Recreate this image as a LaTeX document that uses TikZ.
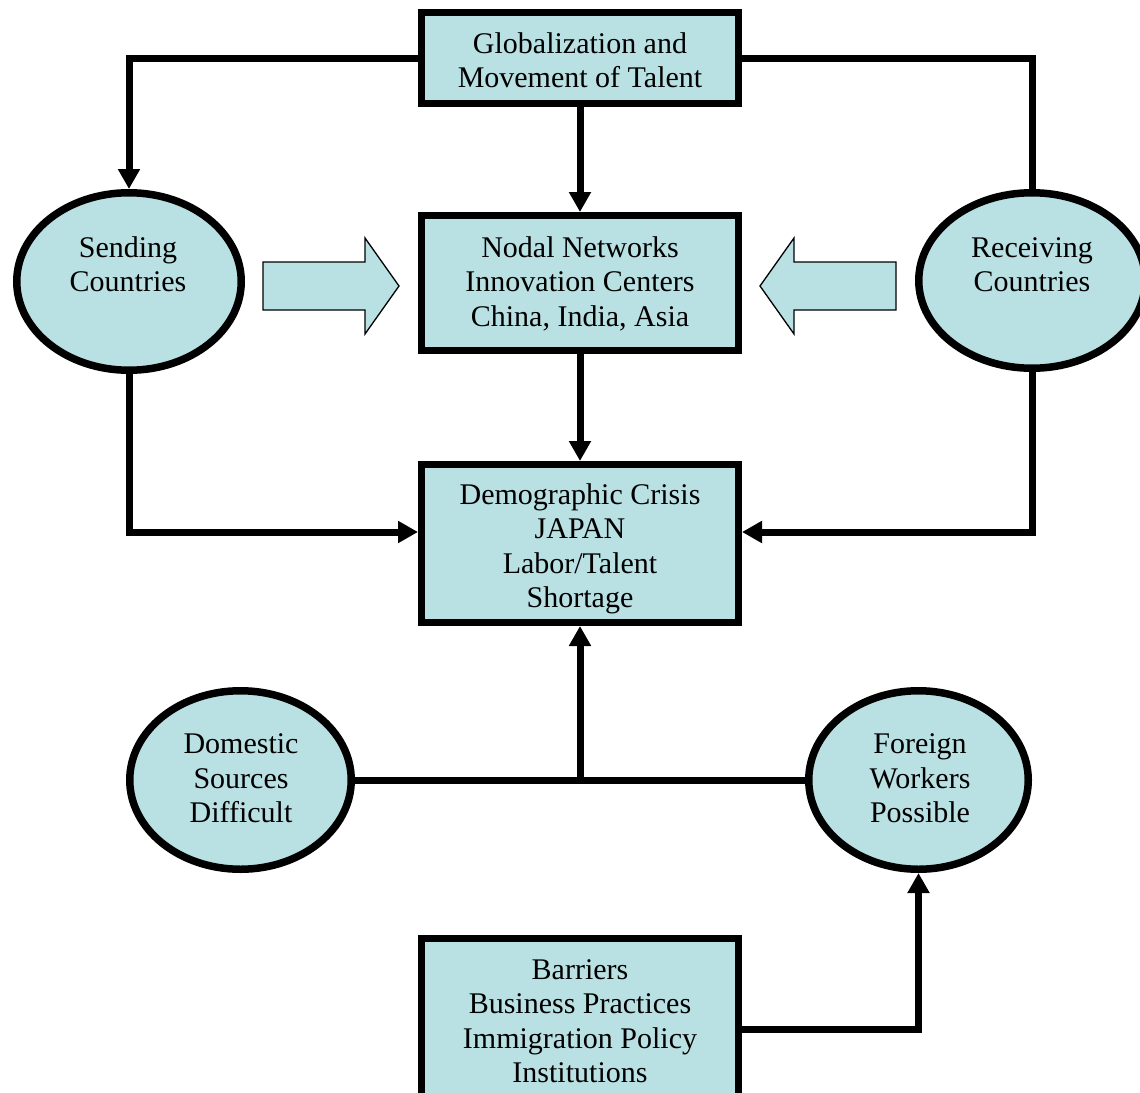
\documentclass[tikz,border=0pt]{standalone}
\usepackage{fontspec}
\setmainfont{Liberation Serif}
\usetikzlibrary{shapes.geometric,arrows.meta}
\definecolor{fillc}{RGB}{185,224,227}
\newcommand{\fsz}{\fontsize{30}{34.5}\selectfont}
\begin{document}
\begin{tikzpicture}[x=1pt,y=-1pt,
  box/.style={draw, rectangle, line width=7pt, fill=fillc, minimum width=317pt, inner sep=0pt},
  oval/.style={draw, ellipse, line width=7.5pt, fill=fillc, inner sep=0pt},
  txt/.style={align=center, inner sep=0pt, font=\fsz},
  conn/.style={line width=7pt},
  arr/.style={conn, -{Triangle[width=21pt,length=20pt]}},
  blockarr/.style={draw, line width=1.3pt, fill=fillc, line join=miter}]
\useasboundingbox (0,0) rectangle (1140,1092);
\clip (0,0) rectangle (1140,1092);

% boxes
\node[box, minimum height=91pt]    (glob)  at (580,58) {};
\node[box, minimum height=135pt]   (nodal) at (580,283) {};
\node[box, minimum height=158pt]   (demo)  at (580,543.5) {};
\node[box, minimum height=181.5pt] (barr)  at (580,1029.25) {};

% ovals
\node[oval, minimum width=224.5pt, minimum height=177.5pt] (send) at (129,281.5) {};
\node[oval, minimum width=226.5pt, minimum height=175.5pt] (recv) at (1032,280.5) {};
\node[oval, minimum width=221.5pt, minimum height=178.5pt] (dom)  at (240.5,780) {};
\node[oval, minimum width=219.5pt, minimum height=178.5pt] (for)  at (918.5,780) {};

% texts
\node[txt] (globt)  at (580,63.6)   {\strut Globalization and\\\strut Movement of Talent};
\node[txt] (nodalt) at (580,284.8)  {\strut Nodal Networks\\\strut Innovation Centers\\\strut China, India, Asia};
\node[txt] (demot)  at (580,549.1)  {\strut Demographic Crisis\\\strut JAPAN\\\strut Labor/Talent\\\strut Shortage};
\node[txt] (barrt)  at (580,1023.9) {\strut Barriers\\\strut Business Practices\\\strut Immigration Policy\\\strut Institutions};
\node[txt] (sendt)  at (128,267.6)  {\strut Sending\\\strut Countries};
\node[txt] (recvt)  at (1032,267.6) {\strut Receiving\\\strut Countries};
\node[txt] (domt)   at (241,781.4)  {\strut Domestic\\\strut Sources\\\strut Difficult};
\node[txt] (fort)   at (920,781.4)  {\strut Foreign\\\strut Workers\\\strut Possible};

% block arrows
\draw[blockarr] (263,262) -- (365,262) -- (365,238) -- (399,286) -- (365,334) -- (365,310) -- (263,310) -- cycle;
\draw[blockarr] (896,262) -- (794,262) -- (794,238) -- (760,286) -- (794,334) -- (794,310) -- (896,310) -- cycle;

% connectors
\draw[arr]  (glob.west) -| (send.north);
\draw[conn] (glob.east) -| (recv.north);
\draw[arr]  (glob.south) -- (nodal.north);
\draw[arr]  (nodal.south) -- (demo.north);
\draw[arr]  (send.south) |- ([yshift=11.5pt]demo.west);
\draw[arr]  (recv.south) |- ([yshift=11.5pt]demo.east);
\draw[conn] (dom.east) -- (for.west);
\coordinate (jn) at (dom.east -| demo.south);
\draw[arr]  (jn) -- (demo.south);
\draw[arr]  (barr.east) -| (for.south);
\end{tikzpicture}
\end{document}
